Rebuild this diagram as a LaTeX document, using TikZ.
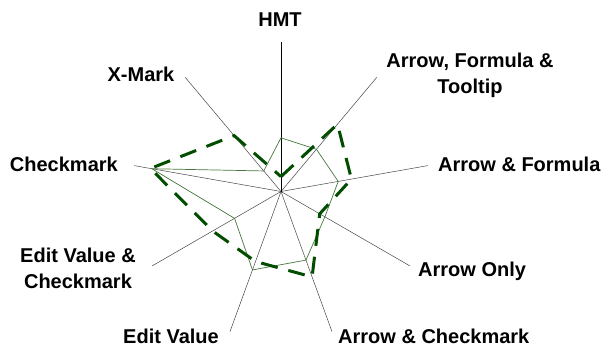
\documentclass[tikz,border=0pt]{standalone}
\usepackage{fontspec}
\setmainfont{Liberation Sans}
\usetikzlibrary{calc}
\definecolor{seriesA}{RGB}{70,120,60}
\definecolor{seriesB}{RGB}{0,77,0}
\definecolor{axisgray}{RGB}{70,70,70}

\begin{document}
\begin{tikzpicture}[x=1pt,y=1pt,
  lbl/.style={font=\fontsize{20}{25.5}\selectfont\bfseries, inner sep=0pt},
  spoke/.style={draw=axisgray, line width=0.5pt},
  mainspoke/.style={draw=black, line width=1pt},
  thinseries/.style={draw=seriesA, line width=0.7pt, line join=miter},
  dashseries/.style={draw=seriesB, line width=3pt, dash pattern=on 17pt off 11pt}]
\useasboundingbox (0,0) rectangle (603,349);

% centre and spoke ends (nine categories, 40 degrees apart)
\coordinate (c) at (281,157.5);
\def\R{149}
\foreach \name/\ang in {hmt/90, aft/50, af/10, ao/-30, ac/-70, ev/-110, evc/-150, cm/170, xm/130}
  \coordinate (\name) at ($(c)+(\ang:\R)$);

% spokes
\foreach \name in {aft, af, ao, ac, ev, evc, cm, xm}
  \draw[spoke] (c) -- (\name);
\draw[mainspoke] (c) -- (hmt);

% data points of both series (fraction of full radius)
\foreach \name/\v/\w in {hmt/0.36/0.10, aft/0.37/0.59, af/0.39/0.48, ao/0.34/0.30,
                         ac/0.49/0.61, ev/0.56/0.50, evc/0.36/0.53, cm/0.88/0.89, xm/0.18/0.49} {
  \coordinate (t-\name) at ($(c)!\v!(\name)$);
  \coordinate (d-\name) at ($(c)!\w!(\name)$);
}

% thin solid series
\draw[thinseries] (t-hmt) -- (t-aft) -- (t-af) -- (t-ao) -- (t-ac) -- (t-ev)
  -- (t-evc) -- (t-cm) -- (t-xm) -- cycle;

% thick dashed series
\draw[dashseries] (d-hmt) -- (d-aft) -- (d-af) -- (d-ao) -- (d-ac) -- (d-ev)
  -- (d-evc) -- (d-cm) -- (d-xm) -- cycle;

% category labels
\node[lbl, anchor=base] (l-hmt) at (280,323) {HMT};
\node[lbl, anchor=north, align=center] (l-aft) at (470,296) {Arrow, Formula \&\\Tooltip};
\node[lbl, anchor=base west] (l-af) at (438,177.3) {Arrow \& Formula};
\node[lbl, anchor=base west] (l-ao) at (418,72.3) {Arrow Only};
\node[lbl, anchor=base west] (l-ac) at (338,6) {Arrow \& Checkmark};
\node[lbl, anchor=base east] (l-ev) at (219,6) {Edit Value};
\node[lbl, anchor=north, align=center] (l-evc) at (78,101) {Edit Value \&\\Checkmark};
\node[lbl, anchor=base east] (l-cm) at (118,177.3) {Checkmark};
\node[lbl, anchor=base east] (l-xm) at (174.5,267.3) {X-Mark};
\end{tikzpicture}
\end{document}
